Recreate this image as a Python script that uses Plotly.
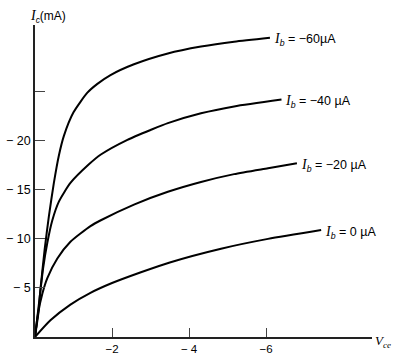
import plotly.graph_objects as go

# Collector-emitter voltage (V) and collector current (mA) for each base current
v_60 = [0, -0.09, -0.14, -0.25, -0.36, -0.49, -0.62, -0.75, -1.0, -1.36, -1.62, -1.96, -2.57, -3.45, -4.31, -5.17, -6.1]
i_60 = [0, -2.5, -4.8, -8.9, -12.3, -15.7, -18.5, -20.5, -22.9, -24.9, -25.8, -26.7, -27.8, -28.9, -29.6, -30.1, -30.5]

v_40 = [0, -0.12, -0.21, -0.32, -0.45, -0.62, -0.92, -1.4, -1.71, -2.4, -3.0, -3.45, -4.31, -5.17, -6.4]
i_40 = [0, -4.0, -7.0, -9.6, -11.9, -13.8, -15.7, -17.6, -18.6, -20.1, -21.1, -21.8, -22.8, -23.5, -24.2]

v_20 = [0, -0.08, -0.19, -0.32, -0.58, -0.92, -1.44, -1.71, -2.57, -3.45, -4.31, -5.17, -6.05, -6.8]
i_20 = [0, -2.4, -4.4, -6.0, -8.0, -9.7, -11.3, -11.9, -13.5, -14.8, -15.8, -16.6, -17.2, -17.7]

v_0 = [0, -0.4, -0.92, -1.44, -2.0, -2.75, -3.5, -4.83, -6.05, -7.43]
i_0 = [0, -1.7, -3.3, -4.5, -5.5, -6.6, -7.6, -9.0, -10.0, -10.9]

labels = ["−60µA", "−40 µA", "−20 µA", "0 µA"]
series = [(v_60, i_60), (v_40, i_40), (v_20, i_20), (v_0, i_0)]

x_tickvals = [-2, -4, -6]
x_ticktext = ["−2", "− 4", "−6"]
y_tickvals = [-5, -10, -15, -20, -25]
y_ticktext = ["− 5", "− 10", "− 15", "− 20", ""]

fig = go.Figure()
for (vx, iy), lab in zip(series, labels):
    fig.add_trace(go.Scatter(x=vx, y=iy, mode="lines",
                             line=dict(color="black", width=2, shape="spline", smoothing=0.6),
                             showlegend=False, hoverinfo="skip"))
    fig.add_annotation(x=vx[-1], y=iy[-1], xref="x", yref="y",
                       text="<span style='font-family:Liberation Serif;font-size:14px'><i>I</i></span><sub><i>b</i></sub> = " + lab,
                       showarrow=False, xanchor="left", yanchor="middle", xshift=2, yshift=-2,
                       font=dict(size=12.5, color="black", family="Liberation Sans"))

fig.add_annotation(x=0, y=1, xref="paper", yref="paper", xanchor="left", yanchor="bottom",
                   xshift=-7, yshift=-2,
                   text="<span style='font-family:Liberation Serif;font-size:14px'><i>I</i></span><sub><i>c</i></sub>(mA)",
                   showarrow=False, font=dict(size=12, color="black", family="Liberation Sans"))
fig.add_annotation(x=1, y=0, xref="paper", yref="paper", xanchor="left", yanchor="middle",
                   xshift=1, yshift=-4,
                   text="<i>V</i><sub><i>ce</i></sub>",
                   showarrow=False, font=dict(size=13, color="black", family="Liberation Serif"))

fig.update_xaxes(range=[0, -8.75], tickvals=x_tickvals, ticktext=x_ticktext,
                 ticks="inside", ticklen=9, tickcolor="#444", tickwidth=1,
                 showline=True, linecolor="#222", linewidth=1.5, showgrid=False,
                 zeroline=False, automargin=False,
                 tickfont=dict(size=11.5, color="black", family="Liberation Sans"))
fig.update_yaxes(range=[0, -31.8], tickvals=y_tickvals, ticktext=y_ticktext,
                 ticks="inside", ticklen=10, tickcolor="#444", tickwidth=1,
                 showline=True, linecolor="#222", linewidth=1.5, showgrid=False,
                 zeroline=False, automargin=False,
                 tickfont=dict(size=12.5, color="black", family="Liberation Sans"))

fig.update_layout(width=416, height=355, margin=dict(l=35, r=44, t=25, b=18),
                  paper_bgcolor="white", plot_bgcolor="white")

fig.write_html("out.html")
